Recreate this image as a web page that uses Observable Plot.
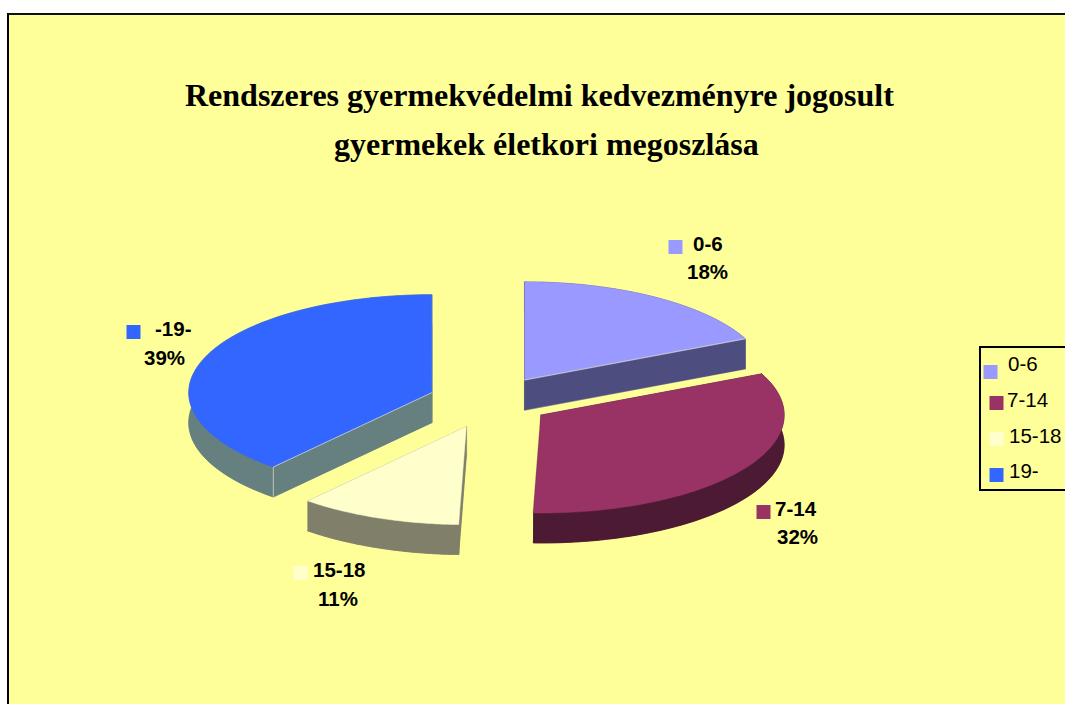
<!DOCTYPE html>
<html lang="hu">
<head>
<meta charset="utf-8">
<script src="https://cdn.jsdelivr.net/npm/d3@7"></script>
<script src="https://cdn.jsdelivr.net/npm/@observablehq/plot@0.6"></script>
<style>
  html, body { margin: 0; padding: 0; background: #fff; overflow: hidden; }
  #stage { position: relative; width: 1065px; height: 704px; overflow: hidden; }
  #panel { position: absolute; left: 7px; top: 13px; width: 1200px; height: 900px; background: #ffff99; border: 2px solid #000; border-top-color: #111; box-sizing: border-box; }
  #legendBox { position: absolute; left: 979px; top: 346px; width: 200px; height: 145px; background: #ffff99; border: 2px solid #000; box-sizing: border-box; }
  #chart { position: absolute; left: 0; top: 0; }
  #chart svg { background: transparent; display: block; }
</style>
</head>
<body>
<div id="stage"><div id="panel"></div><div id="legendBox"></div><div id="chart"></div></div>
<script>
const titleLines = ["Rendszeres gyermekvédelmi kedvezményre jogosult", "gyermekek életkori megoszlása"];
const categories = ["0-6", "7-14", "15-18", "19-"];
const pieNames = ["0-6", "7-14", "15-18", "-19-"];
const shares = [18.1, 32.4, 10.8, 38.7];
const percentLabels = ["18%", "32%", "11%", "39%"];
const topColors = ["#9999ff", "#993366", "#ffffcc", "#3366ff"];
const sideColors = ["#4d4d80", "#4c1a33", "#80806a", "#668080"];
const explode = [0.262, 0.25, 0.275, 0.258];

// Pie geometry, in the unit circle of the x/y scales
const depth = 30 / 98;
const toRad = d3.scaleLinear().domain([0, d3.sum(shares)]).range([0, 2 * Math.PI]);
const cumulative = d3.cumsum(shares);

const polygons = [];
const edges = [];
function add(part, color, pts) { pts.forEach(([x, y]) => polygons.push({part, color, x, y})); }
function addEdge(part, pts) { pts.forEach(([x, y]) => edges.push({part, x, y})); }

// paint order: back slices first
[0, 3, 1, 2].forEach(i => {
  const a0 = toRad(i === 0 ? 0 : cumulative[i - 1]);
  const a1 = toRad(cumulative[i]);
  const mid = (a0 + a1) / 2;
  const ox = explode[i] * Math.sin(mid), oy = explode[i] * Math.cos(mid);
  const arc = d3.range(0, 61).map(k => {
    const t = a0 + (a1 - a0) * k / 60;
    return [ox + Math.sin(t), oy + Math.cos(t)];
  });
  const drop = p => [p[0], p[1] - depth];
  const apex = [ox, oy];
  const first = arc[0], last = arc[arc.length - 1];
  add(`bottom${i}`, sideColors[i], [apex, ...arc].map(drop));
  add(`rim${i}`, sideColors[i], [...arc, ...arc.slice().reverse().map(drop)]);
  add(`cutA${i}`, sideColors[i], [apex, first, drop(first), drop(apex)]);
  add(`cutB${i}`, sideColors[i], [apex, last, drop(last), drop(apex)]);
  add(`top${i}`, topColors[i], [apex, ...arc]);
  if (i === 3) addEdge(`edge${i}`, [drop(first), first, apex]);
  if (i === 0) addEdge(`edge${i}`, [apex, last]);
});

const fontSans = "'Liberation Sans', Arial, sans-serif";
const fontSerif = "'Liberation Serif', 'Times New Roman', serif";

function note(text, x, baseline, size, opts = {}) {
  return Plot.text([text], {
    text: d => d, frameAnchor: "top-left", dx: x, dy: baseline - 0.32 * size,
    textAnchor: "start", lineAnchor: "middle", fontSize: size, fill: "#000",
    fontFamily: fontSans, ...opts
  });
}
function swatch(color, x, y) {
  return Plot.dot([color], {
    frameAnchor: "top-left", dx: x + 7, dy: y + 6.5, symbol: "square",
    r: 7.9, fill: d => d, stroke: "none"
  });
}

const labelLayout = [
  {sw: [668, 240], name: [692.5, 250], pct: [686.5, 278]},
  {sw: [756, 505], name: [774.5, 515], pct: [776.5, 543]},
  {sw: [293, 566], name: [312.5, 576], pct: [317.5, 605]},
  {sw: [126, 325], name: [154.5, 335], pct: [143.5, 364]}
];
const legendLayout = [
  {sw: [983, 365], text: [1007.5, 370]},
  {sw: [989, 396], text: [1006.5, 406]},
  {sw: [989, 432], text: [1008.5, 442]},
  {sw: [989, 468], text: [1008.5, 477]}
];

const cx = 490, cy = 401, rx = 243, ry = 98;
const labelSize = 20.5, titleSize = 32;

const chart = Plot.plot({
  width: 1065, height: 704, margin: 0,
  x: {domain: [-1, 1], range: [cx - rx, cx + rx], axis: null},
  y: {domain: [1, -1], range: [cy - ry, cy + ry], axis: null},
  color: {type: "identity"},
  style: {background: "transparent"},
  marks: [
    Plot.line(polygons, {x: "x", y: "y", z: "part", fill: "color", stroke: "color", strokeWidth: 0.5, curve: "linear-closed"}),
    Plot.line(edges, {x: "x", y: "y", z: "part", stroke: "#d8dcc0", strokeWidth: 0.8, curve: "linear"}),
    note(titleLines[0], 184.5, 105.5, titleSize, {fontFamily: fontSerif, fontWeight: "bold"}),
    note(titleLines[1], 333.5, 154, titleSize, {fontFamily: fontSerif, fontWeight: "bold"}),
    ...pieNames.flatMap((name, i) => [
      swatch(topColors[i], ...labelLayout[i].sw),
      note(name, ...labelLayout[i].name, labelSize, {fontWeight: "bold"}),
      note(percentLabels[i], ...labelLayout[i].pct, labelSize, {fontWeight: "bold"})
    ]),
    ...categories.flatMap((name, i) => [
      swatch(topColors[i], ...legendLayout[i].sw),
      note(name, ...legendLayout[i].text, labelSize)
    ])
  ]
});
document.getElementById("chart").append(chart);
</script>
</body>
</html>
